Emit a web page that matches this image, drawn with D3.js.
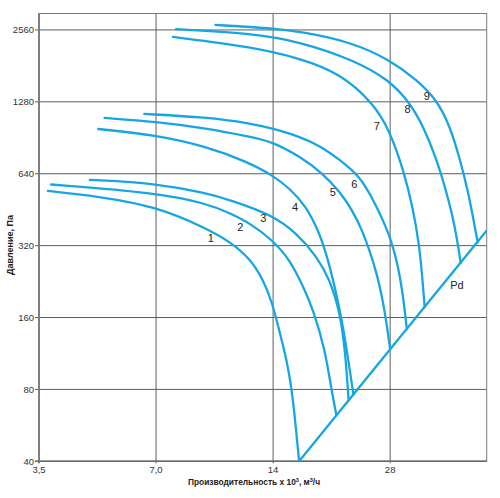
<!DOCTYPE html>
<html>
<head>
<meta charset="utf-8">
<script src="https://cdn.jsdelivr.net/npm/d3@7"></script>
<style>
  body { margin: 0; background: #fff; }
  text { font-family: "Liberation Sans", Arial, sans-serif; }
</style>
</head>
<body>
<script>
// fan curves: flow (x 10^3 m3/h) and pressure (Pa)
var q1 = [3.69, 5.02, 6.99, 9.45, 10.85, 12.21, 13.22, 13.94, 14.59, 15.18, 15.64, 15.95, 16.33];
var p1 = [542, 513, 467, 378, 332, 283, 230, 184, 137, 106, 79.6, 59.6, 40];
var q2 = [3.76, 6.99, 9.45, 10.85, 12.21, 13.94, 15.48, 16.75, 17.77, 19.05, 19.68, 20.34];
var p2 = [577, 533, 481, 437, 397, 338, 279, 215, 172, 117, 83.5, 63.1];
var q3 = [4.73, 6.99, 9.45, 10.85, 13.94, 16.11, 18.14, 19.62, 20.82, 21.45, 21.9];
var p3 = [603, 584, 530, 497, 430, 360, 288, 230, 167, 117, 71.9];
var q4 = [4.97, 6.99, 9.45, 11.98, 13.94, 15.48, 16.92, 18.49, 19.62, 20.82, 21.66, 22.53];
var p4 = [985, 930, 831, 719, 632, 553, 474, 360, 261, 172, 117, 76.1];
var q5 = [5.16, 6.99, 9.45, 12.21, 13.94, 16.43, 18.72, 20.82, 22.36, 23.72, 24.87, 25.92, 26.7, 27.34, 28.0];
var p5 = [1096, 1058, 992, 915, 872, 755, 645, 537, 451, 372, 301, 241, 195, 156, 118];
var q6 = [6.53, 9.45, 12.21, 13.94, 16.43, 18.49, 20.82, 23.44, 25.36, 27.88, 29.41, 30.33, 30.91];
var p6 = [1139, 1103, 1041, 990, 915, 837, 731, 622, 497, 360, 261, 189, 143];
var q7 = [7.74, 12.21, 16.43, 20.82, 25.36, 27.88, 30.3, 32.14, 33.25, 33.84, 34.35];
var p7 = [2394, 2180, 1949, 1686, 1263, 976, 664, 451, 322, 241, 177];
var q8 = [7.88, 12.21, 16.43, 22.53, 27.88, 31.52, 34.11, 36.92, 39.17, 41.15, 42.52];
var p8 = [2578, 2480, 2287, 1917, 1581, 1263, 1008, 731, 530, 384, 271];
var q9 = [9.95, 13.94, 16.43, 22.09, 28.0, 32.8, 36.92, 39.95, 42.39, 44.53, 45.87, 47.02];
var p9 = [2687, 2603, 2519, 2287, 1917, 1581, 1304, 1008, 731, 530, 410, 331];

// dynamic pressure line
var pdQ = [16.33, 49.6];
var pdP = [40, 370];

// curve number labels
var labelText = ['1', '2', '3', '4', '5', '6', '7', '8', '9', 'Pd'];
var labelQ = [9.68, 11.53, 13.22, 15.95, 19.94, 22.66, 25.88, 31.02, 34.8, 41.57];
var labelP = [345, 382, 417, 466, 535, 578, 1018, 1196, 1355, 219];

var xTicks = [3.5, 7, 14, 28];
var xTickLabels = ['3,5', '7,0', '14', '28'];
var yTicks = [40, 80, 160, 320, 640, 1280, 2560];

var initialize = function(){
  var screen = { width: 500, height: 498 };
  var margins = { top: 13.5, bottom: 36.7, left: 39, right: 13.3 };

  var svg = d3.select('body')
              .append('svg')
              .attr('width', screen.width)
              .attr('height', screen.height);

  var xScale = d3.scaleLog()
                 .domain([3.5, 49.6])
                 .range([margins.left, screen.width - margins.right]);
  var yScale = d3.scaleLog()
                 .domain([40, 3000])
                 .range([screen.height - margins.bottom, margins.top]);

  var x0 = xScale.range()[0], x1 = xScale.range()[1];
  var y0 = yScale.range()[0], y1 = yScale.range()[1];

  svg.append('defs').append('clipPath')
     .attr('id', 'plot')
     .append('rect')
     .attr('x', x0).attr('y', y1)
     .attr('width', x1 - x0).attr('height', y0 - y1);

  // GRID //
  var grid = svg.append('g').attr('stroke', '#5e5e5e').attr('stroke-width', 1);
  grid.selectAll('.vline')
      .data(xTicks)
      .enter()
      .append('line')
      .attr('x1', function(d){ return xScale(d); })
      .attr('x2', function(d){ return xScale(d); })
      .attr('y1', y1)
      .attr('y2', y0 + 2);
  grid.selectAll('.hline')
      .data(yTicks)
      .enter()
      .append('line')
      .attr('x1', x0 - 4)
      .attr('x2', x1)
      .attr('y1', function(d){ return yScale(d); })
      .attr('y2', function(d){ return yScale(d); });

  svg.append('rect')
     .attr('x', x0).attr('y', y1)
     .attr('width', x1 - x0).attr('height', y0 - y1)
     .attr('fill', 'none')
     .attr('stroke', '#7a7a7a')
     .attr('stroke-width', 1);
  svg.append('line')
     .attr('x1', x0).attr('x2', x0)
     .attr('y1', y1).attr('y2', y0 + 2)
     .attr('stroke', '#7a7a7a').attr('stroke-width', 1.6);
  svg.append('line')
     .attr('x1', x0 - 4).attr('x2', x1)
     .attr('y1', y0).attr('y2', y0)
     .attr('stroke', '#6a6a6a').attr('stroke-width', 1.4);

  // TICK LABELS //
  svg.append('g')
     .selectAll('text')
     .data(yTicks)
     .enter()
     .append('text')
     .attr('x', x0 - 5)
     .attr('y', function(d){ return yScale(d) + 3.5; })
     .attr('text-anchor', 'end')
     .attr('font-size', 9.5)
     .attr('fill', '#333')
     .text(function(d){ return d; });

  svg.append('g')
     .selectAll('text')
     .data(xTicks)
     .enter()
     .append('text')
     .attr('x', function(d){ return xScale(d); })
     .attr('y', y0 + 12)
     .attr('text-anchor', 'middle')
     .attr('font-size', 9.5)
     .attr('fill', '#333')
     .text(function(d, i){ return xTickLabels[i]; });

  // AXIS TITLES //
  var xt = svg.append('text')
     .attr('x', 254)
     .attr('y', y0 + 24)
     .attr('text-anchor', 'middle')
     .attr('font-size', 8.4)
     .attr('font-weight', 'bold')
     .attr('fill', '#222');
  xt.append('tspan').text('Производительность x 10');
  xt.append('tspan').attr('font-size', 5.5).attr('dy', -3.5).text('3');
  xt.append('tspan').attr('dy', 3.5).text(', м');
  xt.append('tspan').attr('font-size', 5.5).attr('dy', -3.5).text('3');
  xt.append('tspan').attr('dy', 3.5).text('/ч');

  svg.append('text')
     .attr('transform', 'translate(13,245) rotate(-90)')
     .attr('text-anchor', 'middle')
     .attr('font-size', 9)
     .attr('font-weight', 'bold')
     .attr('fill', '#222')
     .text('Давление, Па');

  // CURVES //
  var series = [[q1, p1], [q2, p2], [q3, p3], [q4, p4], [q5, p5], [q6, p6], [q7, p7], [q8, p8], [q9, p9]];
  var drawLine = d3.line()
                   .x(function(d){ return xScale(d[0]); })
                   .y(function(d){ return yScale(d[1]); })
                   .curve(d3.curveBasis);

  var curves = svg.append('g').attr('clip-path', 'url(#plot)');
  curves.selectAll('path')
        .data(series)
        .enter()
        .append('path')
        .attr('d', function(s){ return drawLine(d3.zip(s[0], s[1])); })
        .attr('fill', 'none')
        .attr('stroke', '#16a6e4')
        .attr('stroke-width', 2.3)
        .attr('stroke-linecap', 'round')
        .attr('stroke-linejoin', 'round');

  curves.append('path')
        .attr('d', d3.line()
                     .x(function(d){ return xScale(d[0]); })
                     .y(function(d){ return yScale(d[1]); })(d3.zip(pdQ, pdP)))
        .attr('fill', 'none')
        .attr('stroke', '#16a6e4')
        .attr('stroke-width', 2.3);

  // CURVE LABELS //
  svg.append('g')
     .selectAll('text')
     .data(labelText)
     .enter()
     .append('text')
     .attr('x', function(d, i){ return xScale(labelQ[i]); })
     .attr('y', function(d, i){ return yScale(labelP[i]) + 4; })
     .attr('text-anchor', 'middle')
     .attr('font-size', 11)
     .attr('fill', '#222')
     .text(function(d){ return d; });
}

initialize();
</script>
</body>
</html>
